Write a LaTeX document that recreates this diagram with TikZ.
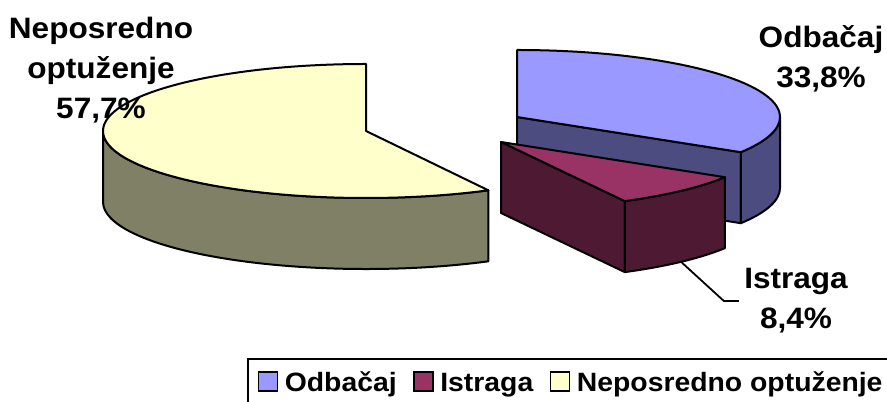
\documentclass[tikz,border=0pt]{standalone}
\usepackage{fontspec}
\setmainfont{Liberation Sans}[FakeStretch=1.07]
\usetikzlibrary{calc,positioning}
\definecolor{odbtop}{RGB}{153,153,255}
\definecolor{odbside}{RGB}{76,76,128}
\definecolor{isttop}{RGB}{153,51,102}
\definecolor{istside}{RGB}{77,25,51}
\definecolor{neptop}{RGB}{255,255,204}
\definecolor{nepside}{RGB}{128,128,102}
\tikzset{
    % Pie styles
    pie face/.style={
        draw=black,
        line width=1pt,
        line join=round
    },
    pie arc/.style={
        x radius=263,
        y radius=67
    },
    % Label styles
    slice label/.style={
        font=\fontsize{14.75}{20}\selectfont\bfseries,
        align=center,
        inner sep=2.5pt
    },
    leader line/.style={
        draw=black,
        line width=0.9pt
    },
    % Legend styles
    key box/.style={
        draw=black,
        line width=0.9pt,
        minimum size=9.5pt,
        inner sep=0pt
    },
    key text/.style={
        font=\fontsize{13.25}{15}\selectfont\bfseries,
        inner sep=0pt,
        text height=9.5pt,
        text depth=0pt
    }
}

\begin{document}
\begin{tikzpicture}[x=0.5pt, y=0.5pt]
        \path[use as bounding box] (0,0) rectangle (887,401);
        \clip (0,0) rectangle (887,401);

        % Neposredno optuzenje slice
        \begin{scope}
            \coordinate (nep apex) at (366,270);
            \filldraw[pie face, fill=nepside] ([shift={(180:263 and 67)}]nep apex)
                arc[pie arc, start angle=180, end angle=297.72] -- ++(0,-71)
                arc[pie arc, start angle=297.72, end angle=180] -- cycle;
            \filldraw[pie face, fill=neptop] (nep apex) -- ++(0,67)
                arc[pie arc, start angle=90, end angle=297.72] -- cycle;
        \end{scope}

        % Odbacaj slice
        \begin{scope}
            \coordinate (odb apex) at (517,284);
            \filldraw[pie face, fill=odbside] (odb apex) -- ++(-31.68:263 and 67)
                -- ++(0,-71) -- ++(148.32:263 and 67) -- cycle;
            \filldraw[pie face, fill=odbside] ([shift={(0:263 and 67)}]odb apex)
                arc[pie arc, start angle=0, end angle=-31.68] -- ++(0,-71)
                arc[pie arc, start angle=-31.68, end angle=0] -- cycle;
            \filldraw[pie face, fill=odbtop] (odb apex) -- ++(0,67)
                arc[pie arc, start angle=90, end angle=-31.68] -- cycle;
        \end{scope}

        % Istraga slice
        \begin{scope}
            \coordinate (ist apex) at (501,259);
            \filldraw[pie face, fill=istside] (ist apex) -- ++(-61.92:263 and 67)
                -- ++(0,-71) -- ++(118.08:263 and 67) -- cycle;
            \filldraw[pie face, fill=istside] ([shift={(-61.92:263 and 67)}]ist apex)
                arc[pie arc, start angle=-61.92, end angle=-31.68] -- ++(0,-71)
                arc[pie arc, start angle=-31.68, end angle=-61.92] -- cycle;
            \filldraw[pie face, fill=isttop] (ist apex) -- ++(-31.68:263 and 67)
                arc[pie arc, start angle=-31.68, end angle=-61.92] -- cycle;
        \end{scope}

        % Labels
        \node[slice label] (nep label) at (101,331) {Neposredno\\optuženje\\57,7\%};
        \node[slice label] (odb label) at (821,342) {Odbačaj\\33,8\%};
        \node[slice label] (ist label) at (796,100) {Istraga\\8,4\%};

        \coordinate (ist tip) at ($(ist apex)+(-46.8:263 and 67)+(0,-71)$);
        \draw[leader line] (ist tip) -- ([xshift=-7.5pt]ist label.west) -- (ist label.west);

        % Legend
        \draw[line width=1pt] (248,-30) |- (900,42);
        \node[key box, fill=odbtop] (key0) at (268,19.5) {};
        \node[key text, right=3pt of key0] (keytext0) {Odbačaj};
        \foreach \i/\prev/\col/\name in {1/0/isttop/Istraga,2/1/neptop/Neposredno optuženje} {
            \node[key box, fill=\col, right=8pt of keytext\prev] (key\i) {};
            \node[key text, right=3pt of key\i] (keytext\i) {\name};
        }
    \end{tikzpicture}
\end{document}
